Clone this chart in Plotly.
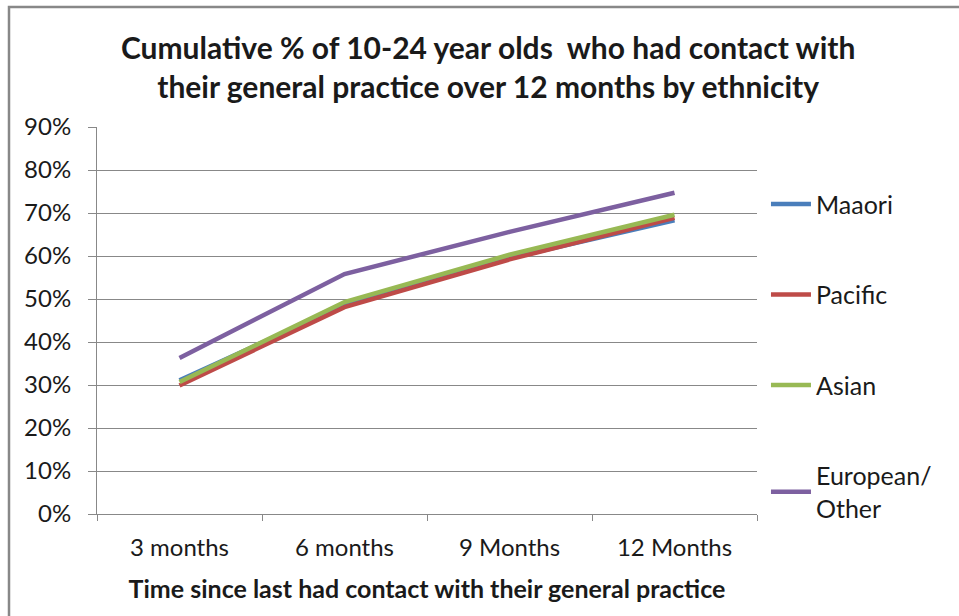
import plotly.graph_objects as go

# Time since last contact (categories on the x axis)
periods = ["3 months", "6 months", "9 Months", "12 Months"]

# Cumulative share of 10-24 year olds who had contact, by ethnicity
maaori = [0.311, 0.486, 0.595, 0.683]
pacific = [0.299, 0.481, 0.592, 0.689]
asian = [0.307, 0.493, 0.603, 0.696]
european_other = [0.363, 0.558, 0.656, 0.747]

series_names = ["Maaori", "Pacific", "Asian", "European/<br>Other"]
series_colors = ["#4A7EBB", "#BE4B48", "#98B954", "#7D60A0"]
series_values = [maaori, pacific, asian, european_other]

y_ticks = [i / 10 for i in range(10)]

FONT = "Lato, Open Sans, sans-serif"
GRID = "#888888"
TEXT = "#1a1a1a"

fig = go.Figure()
for name, color, vals in zip(series_names, series_colors, series_values):
    fig.add_trace(go.Scatter(
        x=periods, y=vals, name=name, mode="lines",
        line=dict(color=color, width=4.5),
        legendgroup=name,
    ))

fig.update_layout(
    width=959, height=616,
    margin=dict(l=97, r=202, t=127, b=102),
    paper_bgcolor="white", plot_bgcolor="white",
    font=dict(family=FONT, color=TEXT),
    title=dict(
        text="<b>Cumulative % of 10-24 year olds  who had contact with<br>their general practice over 12 months by ethnicity</b>",
        x=0.509, xanchor="center", y=0.905, yanchor="top",
        font=dict(size=30, family=FONT, color=TEXT),
    ),
    showlegend=True,
    legend=dict(
        x=1.0136, xanchor="left", y=0.86, yanchor="top",
        font=dict(size=25, family=FONT, color=TEXT),
        tracegroupgap=55, itemwidth=40,
        bgcolor="rgba(0,0,0,0)",
    ),
    xaxis=dict(
        type="category", tickson="boundaries",
        ticks="outside", ticklen=6, tickcolor=GRID,
        showline=True, linecolor=GRID, linewidth=1,
        showgrid=False,
        tickfont=dict(size=24, family=FONT, color=TEXT),
        ticklabelstandoff=12,
        range=[-0.5, 3.5],
        title=dict(text="<b>Time since last had contact with their general practice</b>",
                   font=dict(size=25, family=FONT, color=TEXT), standoff=20),
    ),
    yaxis=dict(
        range=[0, 0.9], tickvals=y_ticks, tickformat=".0%",
        ticks="outside", ticklen=8, tickcolor=GRID,
        showline=True, linecolor=GRID, linewidth=1,
        showgrid=True, gridcolor=GRID, gridwidth=1,
        tickfont=dict(size=24, family=FONT, color=TEXT),
        ticklabelstandoff=12,
        zeroline=False,
    ),
    shapes=[dict(
        type="rect", xref="paper", yref="paper",
        x0=(9 - 97) / 660, x1=(975 - 97) / 660,
        y0=(514 - 640) / 387, y1=(514 - 7) / 387,
        line=dict(color="#888888", width=2.5), fillcolor="rgba(0,0,0,0)",
        layer="below",
    )],
)

fig.write_html("out.html")
